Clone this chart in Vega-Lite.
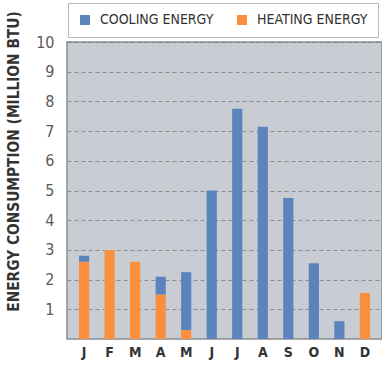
{
  "$schema": "https://vega.github.io/schema/vega-lite/v6.json",
  "autosize": "none",
  "width": 315,
  "height": 297,
  "padding": {"left": 67, "top": 42, "right": 0, "bottom": 29},
  "background": "white",
  "config": {
    "font": "DejaVu Sans Condensed",
    "view": {"fill": "#c9cdd3", "stroke": "#8a8d92", "strokeWidth": 1.5}
  },
  "data": {
    "values": [
      {"month": "J", "idx": 1, "type": "HEATING ENERGY", "value": 2.6},
      {"month": "J", "idx": 1, "type": "COOLING ENERGY", "value": 0.2},
      {"month": "F", "idx": 2, "type": "HEATING ENERGY", "value": 3.0},
      {"month": "F", "idx": 2, "type": "COOLING ENERGY", "value": 0.0},
      {"month": "M", "idx": 3, "type": "HEATING ENERGY", "value": 2.6},
      {"month": "M", "idx": 3, "type": "COOLING ENERGY", "value": 0.0},
      {"month": "A", "idx": 4, "type": "HEATING ENERGY", "value": 1.5},
      {"month": "A", "idx": 4, "type": "COOLING ENERGY", "value": 0.6},
      {"month": "M ", "idx": 5, "type": "HEATING ENERGY", "value": 0.3},
      {"month": "M ", "idx": 5, "type": "COOLING ENERGY", "value": 1.95},
      {"month": "J ", "idx": 6, "type": "HEATING ENERGY", "value": 0.0},
      {"month": "J ", "idx": 6, "type": "COOLING ENERGY", "value": 5.0},
      {"month": "J  ", "idx": 7, "type": "HEATING ENERGY", "value": 0.0},
      {"month": "J  ", "idx": 7, "type": "COOLING ENERGY", "value": 7.75},
      {"month": "A ", "idx": 8, "type": "HEATING ENERGY", "value": 0.0},
      {"month": "A ", "idx": 8, "type": "COOLING ENERGY", "value": 7.15},
      {"month": "S", "idx": 9, "type": "HEATING ENERGY", "value": 0.0},
      {"month": "S", "idx": 9, "type": "COOLING ENERGY", "value": 4.75},
      {"month": "O", "idx": 10, "type": "HEATING ENERGY", "value": 0.0},
      {"month": "O", "idx": 10, "type": "COOLING ENERGY", "value": 2.55},
      {"month": "N", "idx": 11, "type": "HEATING ENERGY", "value": 0.0},
      {"month": "N", "idx": 11, "type": "COOLING ENERGY", "value": 0.6},
      {"month": "D", "idx": 12, "type": "HEATING ENERGY", "value": 1.55},
      {"month": "D", "idx": 12, "type": "COOLING ENERGY", "value": 0.0}
    ]
  },
  "mark": {"type": "bar"},
  "encoding": {
    "x": {
      "field": "month",
      "type": "nominal",
      "sort": {"field": "idx"},
      "scale": {"paddingInner": 0.6, "paddingOuter": 0.47},
      "axis": {
        "title": null,
        "labelAngle": 0,
        "ticks": false,
        "domain": false,
        "labelFontWeight": "bold",
        "labelFontSize": 14,
        "labelColor": "#333333",
        "labelPadding": 6
      }
    },
    "y": {
      "field": "value",
      "type": "quantitative",
      "stack": "zero",
      "scale": {"domain": [0, 10], "nice": false},
      "axis": {
        "title": "ENERGY CONSUMPTION (MILLION BTU)",
        "titleFontWeight": "bold",
        "titleFontSize": 15.3,
        "titleColor": "#333333",
        "titlePadding": 14,
        "titleY": 119,
        "values": [1, 2, 3, 4, 5, 6, 7, 8, 9, 10],
        "ticks": false,
        "domain": false,
        "labelFontSize": 16,
        "labelColor": "#5a5a5a",
        "labelPadding": 13,
        "gridColor": "#6f7378",
        "gridDash": [4, 3],
        "gridWidth": 1,
        "gridOpacity": 0.7
      }
    },
    "color": {
      "field": "type",
      "type": "nominal",
      "scale": {
        "domain": ["COOLING ENERGY", "HEATING ENERGY"],
        "range": ["#5b84bd", "#f98f3f"]
      },
      "legend": {
        "title": null,
        "orient": "none",
        "direction": "horizontal",
        "legendX": 1,
        "legendY": -39,
        "padding": 10,
        "fillColor": "white",
        "strokeColor": "#b5b8bd",
        "symbolType": "square",
        "symbolSize": 100,
        "symbolStrokeWidth": 0,
        "symbolOpacity": 1,
        "labelFontSize": 14,
        "labelColor": "#333333",
        "labelOffset": 8,
        "columnPadding": 21
      }
    },
    "order": {"field": "type", "sort": "descending"}
  }
}
